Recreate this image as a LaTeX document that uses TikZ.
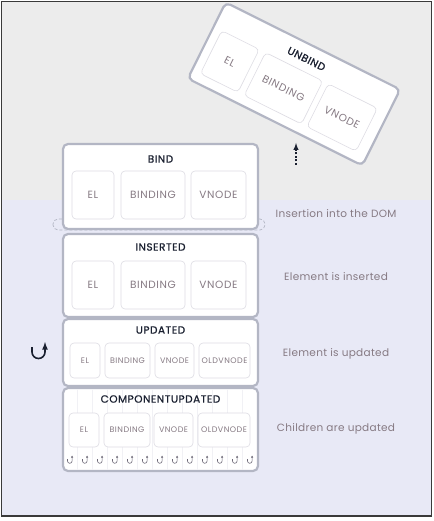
\documentclass[tikz,border=0pt]{standalone}
\usepackage{fontspec}
\setmainfont{Poppins}
\newfontfamily\capsfont[LetterSpace=6]{Poppins}
\newfontfamily\headfont[LetterSpace=5, FakeBold=0.8]{Poppins}
\newfontfamily\notefont[LetterSpace=3]{Poppins}
\usetikzlibrary{arrows, arrows.meta, positioning}

\definecolor{topgray}{HTML}{ECECEC}
\definecolor{lavender}{HTML}{E8E9F6}
\definecolor{frameline}{HTML}{3A3A3A}
\definecolor{stageline}{HTML}{B3B6C4}
\definecolor{slotline}{HTML}{DDDCE3}
\definecolor{slottext}{HTML}{867A83}
\definecolor{titletext}{HTML}{1A2030}
\definecolor{colline}{HTML}{F1F1F5}
\definecolor{hooktext}{HTML}{6E6A78}

\begin{document}
\begin{tikzpicture}[
                    x=1pt, y=1pt,
                    stage/.style={draw=stageline, line width=2.2pt, fill=white, rounded corners=5pt,
                        minimum width=195pt, inner sep=0pt},
                    slot/.style={draw=slotline, line width=.6pt, fill=white, rounded corners=4pt,
                        inner sep=0pt, text=slottext, font=\capsfont\fontsize{10.5}{11}\selectfont},
                    small slot/.style={slot, font=\capsfont\fontsize{8}{9}\selectfont},
                    title/.style={text=titletext, font=\headfont\fontsize{10.5}{12}\selectfont},
                    note/.style={text=slottext, font=\notefont\fontsize{10.5}{12}\selectfont},
                    hook/.style={titletext, -latex}
                ]
                \useasboundingbox (0, 0) rectangle (433, -521);
                % background and frame
                \fill[topgray] (2, -2) rectangle (432, -200);
                \fill[lavender] (2, -200) rectangle (432, -516);
                \draw[frameline, line width=1.5pt] (1.5, -1.5) rectangle (431.5, -516);

                % unbind, tilted away
                \begin{scope}[shift={(294, -84)}, rotate=-26.5, transform shape]
                    \node[stage, minimum height=85pt] (unbind) at (0, 0) {};
                    \node[title] (unbind-title) at (0, 28) {UNBIND};
                    \node[slot, minimum width=42pt, minimum height=48pt] (unbind-el) at (-67.5, -8.5) {EL};
                    \node[slot, minimum width=64pt, minimum height=48pt] (unbind-binding) at (-7.5, -8.5) {BINDING};
                    \node[slot, minimum width=55pt, minimum height=48pt] (unbind-vnode) at (58, -8.5) {VNODE};
                \end{scope}
                \coordinate (lift) at (296, -165);
                \draw[hook, line width=1.4pt, dash pattern=on 2pt off 1.5pt] (lift) -- ++(0, 22);

                % insertion gap
                \draw[stageline, line width=.7pt, densely dashed, rounded corners=5pt]
                    (53, -219) rectangle (265, -230);

                % bind
                \node[stage, minimum height=85pt] (bind) at (160.5, -186.5) {};
                \node[title] (bind-title) at (160.5, -159) {BIND};
                \node[slot, minimum width=42pt, minimum height=48pt] (bind-el) at (93, -195) {EL};
                \node[slot, minimum width=64pt, minimum height=48pt] (bind-binding) at (153, -195) {BINDING};
                \node[slot, minimum width=55pt, minimum height=48pt] (bind-vnode) at (218.5, -195) {VNODE};

                % inserted
                \node[stage, minimum height=83pt] (inserted) at (160.5, -275.5) {};
                \node[title] (inserted-title) at (160.5, -247) {INSERTED};
                \node[slot, minimum width=42pt, minimum height=48pt] (inserted-el) at (93, -285) {EL};
                \node[slot, minimum width=64pt, minimum height=48pt] (inserted-binding) at (153, -285) {BINDING};
                \node[slot, minimum width=55pt, minimum height=48pt] (inserted-vnode) at (218.5, -285) {VNODE};

                % updated
                \node[stage, minimum height=67pt] (updated) at (160.5, -352.5) {};
                \node[title] (updated-title) at (160.5, -330) {UPDATED};
                \node[small slot, minimum width=30pt, minimum height=35pt] (updated-el) at (85, -360.5) {EL};
                \node[small slot, minimum width=45pt, minimum height=35pt] (updated-binding) at (127.5, -360.5) {BINDING};
                \node[small slot, minimum width=39pt, minimum height=35pt] (updated-vnode) at (174.5, -360.5) {VNODE};
                \node[small slot, minimum width=51pt, minimum height=35pt] (updated-old) at (224.5, -360.5) {OLDVNODE};
                \coordinate (loop) at (32, -347);
                \draw[hook, line width=1.6pt] (loop) -- ++(0, -5) arc[start angle=180, end angle=360, radius=6.5pt]
                    -- ++(0, 10);

                % componentUpdated
                \node[stage, minimum height=83pt] (compupd) at (160.5, -429.5) {};
                \foreach \i in {0,...,11}
                    \draw[colline, line width=.6pt] ({77.5 + 15*\i}, -389.5) -- ({77.5 + 15*\i}, -469.5);
                \node[title] (compupd-title) at (160.5, -399) {COMPONENTUPDATED};
                \node[small slot, minimum width=30pt, minimum height=34pt] (compupd-el) at (84, -430) {EL};
                \node[small slot, minimum width=46pt, minimum height=34pt] (compupd-binding) at (127, -430) {BINDING};
                \node[small slot, minimum width=39pt, minimum height=34pt] (compupd-vnode) at (173.5, -430) {VNODE};
                \node[small slot, minimum width=52pt, minimum height=34pt] (compupd-old) at (224, -430) {OLDVNODE};
                \foreach \i in {0,...,12}
                    \draw[hooktext, line width=.6pt, -{Latex[length=2pt, width=2.4pt]}] ({67.5 + 15*\i}, -459) -- ++(0, -2)
                        arc[start angle=180, end angle=360, radius=2.3pt] -- ++(0, 5.5);

                % notes
                \node[note] (note-dom) at (336, -214) {Insertion into the DOM};
                \node[note] (note-inserted) at (336, -277) {Element is inserted};
                \node[note] (note-updated) at (336, -354) {Element is updated};
                \node[note] (note-children) at (336, -429) {Children are updated};
            \end{tikzpicture}
\end{document}
